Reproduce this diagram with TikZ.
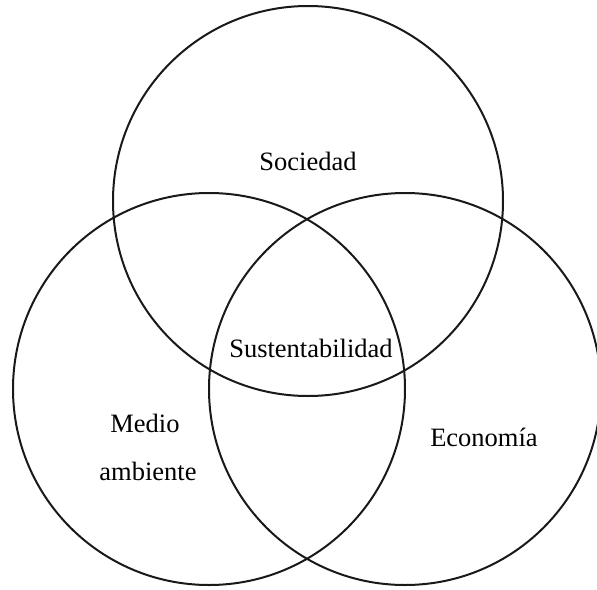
\documentclass[tikz,border=0pt]{standalone}
\usepackage{fontspec}
\setmainfont{Liberation Serif}
\begin{document}
\begin{tikzpicture}[x=1pt,y=-1pt,
  venn/.style={draw=black!90, line width=2pt},
  lbl/.style={font=\fontsize{26.5}{48}\selectfont, inner sep=0pt, align=center}]
\useasboundingbox (0,0) rectangle (597,589);
\begin{scope}
\clip (0,0) rectangle (597,589);
\draw[venn] (308,201) circle[radius=195];
\draw[venn] (209,389) circle[radius=196];
\draw[venn] (405,389) circle[radius=196];
\end{scope}
\node[lbl, anchor=base] (soc) at (308,170) {Sociedad};
\node[lbl, anchor=base] (sus) at (311,357) {Sustentabilidad};
\node[lbl, anchor=base] (med) at (145,432) {Medio};
\node[lbl, anchor=base] (amb) at (148,480) {ambiente};
\node[lbl, anchor=base] (eco) at (484,446) {Economía};
\end{tikzpicture}
\end{document}
